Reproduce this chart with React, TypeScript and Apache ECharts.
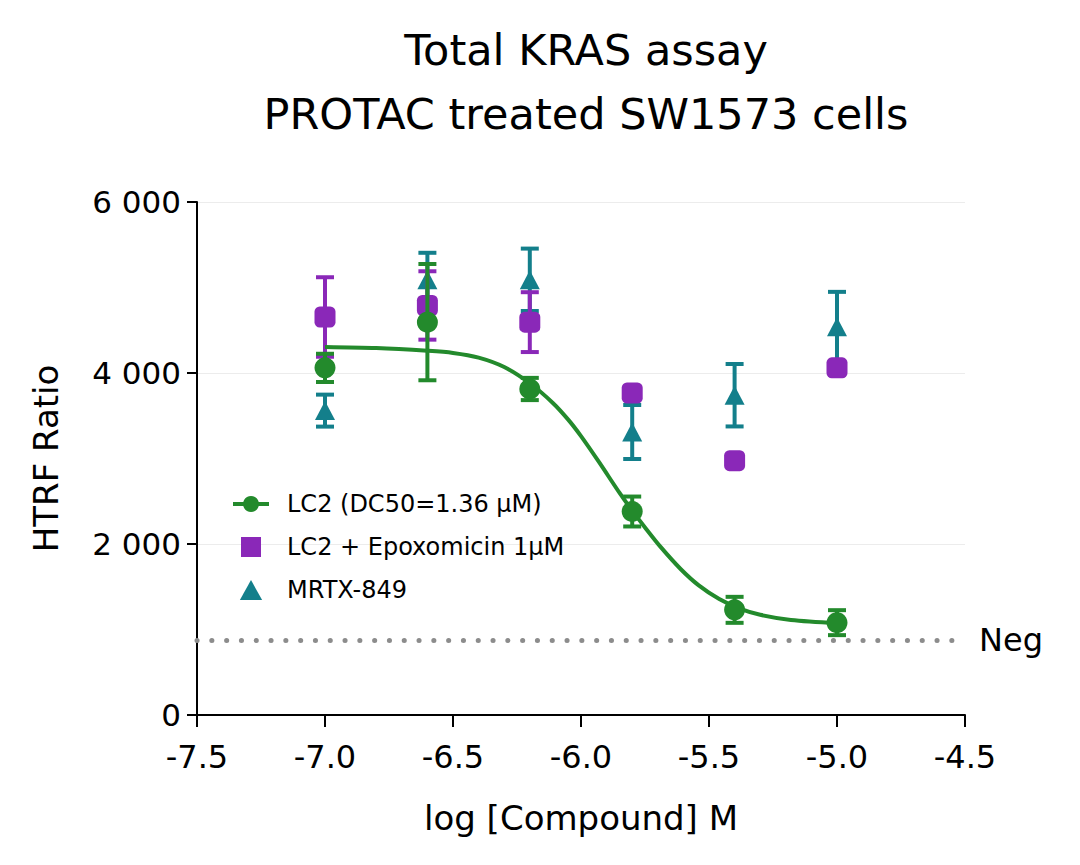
import React, { useEffect, useRef } from "react";
import * as echarts from "echarts";

const doses = [-7.0, -6.6, -6.2, -5.8, -5.4, -5.0];

const lc2Name = "LC2 (DC50=1.36 µM)";
const lc2Mean = [4060, 4595, 3813, 2380, 1230, 1080];
const lc2Err = [165, 680, 130, 175, 152, 146];

const epoName = "LC2 + Epoxomicin 1µM";
const epoMean = [4655, 4790, 4595, 3766, 2975, 4060];
const epoErr = [465, 400, 350, 70, 60, 70];

const mrtxName = "MRTX-849";
const mrtxMean = [3560, 5090, 5090, 3310, 3740, 4540];
const mrtxErr = [187, 316, 365, 316, 365, 409];

const fitX = [-7.0, -6.8, -6.6, -6.5, -6.4, -6.3, -6.2, -6.11, -6.05, -6.0, -5.93, -5.85, -5.8, -5.75, -5.69, -5.61, -5.54, -5.46, -5.38, -5.3, -5.18, -5.0];
const fitY = [4305, 4292, 4260, 4235, 4180, 4070, 3880, 3650, 3455, 3262, 2960, 2600, 2390, 2194, 1969, 1705, 1516, 1356, 1244, 1172, 1112, 1076];

const negValue = 878;

const xTicks = { min: -7.5, max: -4.5, interval: 0.5 };
const yTicks = { min: 0, max: 6000, interval: 2000 };

const GREEN = "#238a2c";
const PURPLE = "#8a28b8";
const TEAL = "#137f8b";
const FONT = "DejaVu Sans";

function errorBars(name: string, color: string, mean: number[], err: number[], z: number) {
  return {
    type: "custom",
    name,
    z,
    data: doses.map((d, i) => [d, mean[i], err[i]]),
    renderItem: (_params: any, api: any) => {
      const x = api.value(0);
      const y = api.value(1);
      const e = api.value(2);
      const top = api.coord([x, y + e]);
      const bot = api.coord([x, y - e]);
      const hw = 9;
      const style = { stroke: color, lineWidth: 4 };
      return {
        type: "group",
        children: [
          { type: "line", shape: { x1: top[0], y1: top[1], x2: bot[0], y2: bot[1] }, style },
          { type: "line", shape: { x1: top[0] - hw, y1: top[1], x2: top[0] + hw, y2: top[1] }, style },
          { type: "line", shape: { x1: bot[0] - hw, y1: bot[1], x2: bot[0] + hw, y2: bot[1] }, style },
        ],
      };
    },
  };
}

export default function App() {
  const ref = useRef<HTMLDivElement>(null);
  useEffect(() => {
    if (!ref.current) return;
    const chart = echarts.init(ref.current, null, { renderer: "svg" });
    chart.setOption({
      animation: false,
      backgroundColor: "#ffffff",
      title: {
        text: "Total KRAS assay\nPROTAC treated SW1573 cells",
        left: 581,
        textAlign: "center",
        top: 13,
        textStyle: { fontFamily: FONT, fontSize: 43, fontWeight: "normal", color: "#000", lineHeight: 64 },
      },
      legend: {
        orient: "vertical",
        left: 226,
        top: 487,
        itemWidth: 36,
        itemHeight: 20,
        itemGap: 19,
        data: [
          { name: lc2Name, itemStyle: { color: GREEN }, lineStyle: { color: GREEN, width: 4 } },
          { name: epoName, icon: "path://M0,0L10,0L10,10L0,10Z", itemStyle: { color: PURPLE } },
          { name: mrtxName, icon: "path://M5,0L10,9L0,9Z", itemStyle: { color: TEAL } },
        ],
        textStyle: { fontFamily: FONT, fontSize: 24, color: "#000", padding: [0, 0, 0, 13] },
      },
      grid: { left: 197, right: 115, top: 202, bottom: 150, containLabel: false },
      xAxis: {
        type: "value",
        min: xTicks.min,
        max: xTicks.max,
        interval: xTicks.interval,
        name: "log [Compound] M",
        nameLocation: "middle",
        nameGap: 86,
        nameTextStyle: { fontFamily: FONT, fontSize: 34, color: "#000" },
        axisLine: { lineStyle: { color: "#000", width: 2 } },
        axisTick: { show: true, length: 12, lineStyle: { color: "#000", width: 2 } },
        axisLabel: {
          fontFamily: FONT,
          fontSize: 32,
          color: "#000",
          margin: 26,
          formatter: (v: number) => v.toFixed(1),
        },
        splitLine: { show: false },
      },
      yAxis: {
        type: "value",
        min: yTicks.min,
        max: yTicks.max,
        interval: yTicks.interval,
        name: "HTRF Ratio",
        nameLocation: "middle",
        nameGap: 134,
        nameTextStyle: { fontFamily: FONT, fontSize: 34, color: "#000" },
        axisLine: { show: true, lineStyle: { color: "#000", width: 2 } },
        axisTick: { show: true, length: 10, lineStyle: { color: "#000", width: 2 } },
        axisLabel: {
          fontFamily: FONT,
          fontSize: 31,
          color: "#000",
          margin: 16,
          formatter: (v: number) => (v === 0 ? "0" : `${v / 1000} 000`),
        },
        splitLine: { show: true, lineStyle: { color: "#ececec", width: 1 } },
      },
      series: [
        {
          type: "line",
          name: "neg",
          data: [],
          markLine: {
            silent: true,
            symbol: "none",
            lineStyle: { color: "#8c8c8c", width: 5, type: [0.1, 14.7], cap: "round" },
            label: { show: true, position: "end", formatter: "Neg", fontFamily: FONT, fontSize: 32, color: "#000", distance: 14 },
            data: [{ yAxis: negValue }],
          },
        },
        errorBars(mrtxName + " err", TEAL, mrtxMean, mrtxErr, 2),
        {
          type: "scatter",
          name: mrtxName,
          z: 2,
          symbol: "triangle",
          symbolSize: [20, 19],
          itemStyle: { color: TEAL, opacity: 1 },
          data: doses.map((d, i) => [d, mrtxMean[i]]),
        },
        errorBars(epoName + " err", PURPLE, epoMean, epoErr, 3),
        {
          type: "scatter",
          name: epoName,
          z: 3,
          symbol: "roundRect",
          symbolSize: 21,
          itemStyle: { color: PURPLE, opacity: 1 },
          data: doses.map((d, i) => [d, epoMean[i]]),
        },
        {
          type: "line",
          name: lc2Name,
          z: 4,
          smooth: 0.3,
          symbol: "circle",
          symbolSize: 16,
          showSymbol: false,
          itemStyle: { color: GREEN },
          lineStyle: { color: GREEN, width: 4 },
          data: fitX.map((x, i) => [x, fitY[i]]),
        },
        errorBars(lc2Name + " err", GREEN, lc2Mean, lc2Err, 4),
        {
          type: "scatter",
          name: lc2Name,
          z: 4,
          symbol: "circle",
          symbolSize: 21,
          itemStyle: { color: GREEN, opacity: 1 },
          data: doses.map((d, i) => [d, lc2Mean[i]]),
        },
      ],
    });
    return () => chart.dispose();
  }, []);
  return <div ref={ref} style={{ width: 1080, height: 865, margin: -8 }} />;
}
